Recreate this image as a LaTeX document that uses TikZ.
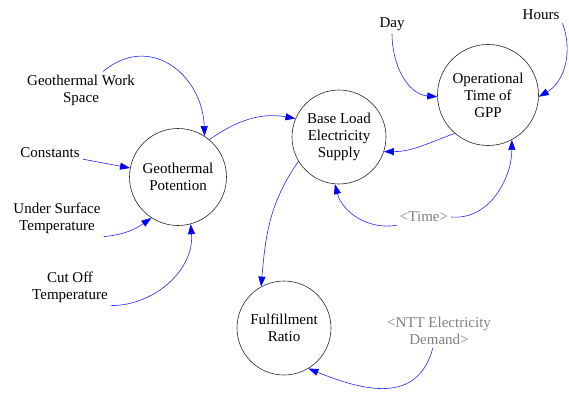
\documentclass[tikz,border=0pt]{standalone}
\usepackage{fontspec}
\setmainfont{Liberation Serif}
\usetikzlibrary{arrows.meta}

\begin{document}
\begin{tikzpicture}
[x=1pt,y=1pt,%
  every node/.style={font=\fontsize{15}{17}\selectfont,align=center,inner sep=3pt},%
  aux/.style={shape=circle,draw=black!85,line width=0.6pt,inner sep=0pt},%
  ghost/.style={text=black!50},%
  link/.style={draw=blue!85,line width=0.6pt,-{Triangle[length=10pt,width=7pt,blue]}}]
\useasboundingbox (0,0) rectangle (569,-396);
% variables in circles
\node[aux,minimum size=97pt] (gp) at (178,-177) {Geothermal\\Potention};
\node[aux,minimum size=94pt] (bls) at (339,-137) {Base Load\\Electricity\\Supply};
\node[aux,minimum size=101pt] (otg) at (488,-95) {Operational\\Time of\\GPP};
\node[aux,minimum size=94pt] (fr) at (284,-328) {Fulfillment\\Ratio};
% plain variables
\node (gws) at (81,-90) {Geothermal Work\\Space};
\node (con) at (50,-153) {Constants};
\node (ust) at (57,-218) {Under Surface\\Temperature};
\node (cot) at (70,-287) {Cut Off\\Temperature};
\node (day) at (392,-24) {Day};
\node (hrs) at (541,-15) {Hours};
\node[ghost] (tim) at (424,-217) {<Time>};
\node[ghost] (ntt) at (439,-331) {<NTT Electricity\\Demand>};
\path
(gws.40) edge[link,out=40,in=92,looseness=1.3] (gp.57)
(con) edge[link] (gp)
(ust.south east) edge[link,out=5,in=215] (gp.237)
(cot.south east) edge[link,out=0,in=-85] (gp.285)
(gp.50) edge[link,out=35,in=170] (bls.157)
(bls.211) edge[link,out=235,in=85] (fr.119)
(otg.229) edge[link,out=200,in=0] (bls.342)
(day.south) edge[link,out=-90,in=175] (otg.182)
(hrs.south east) edge[link,out=-70,in=30] (otg.-2)
(tim.south west) edge[link,out=190,in=-75] (bls.265)
(tim.east) edge[link,out=-5,in=-90] (otg.-62)
(ntt.250) edge[link,out=-105,in=-22,looseness=1.2] (fr.-59);
\end{tikzpicture}
\end{document}
